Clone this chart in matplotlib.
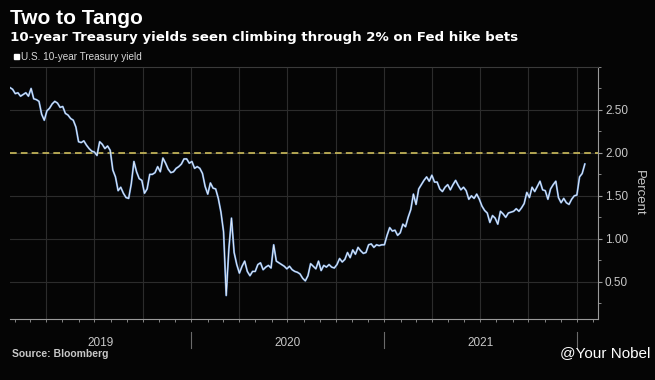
import pandas as pd
import matplotlib
matplotlib.use("Agg")
import matplotlib.pyplot as plt
import matplotlib.dates as mdates
import matplotlib.transforms as mtransforms
from matplotlib.patches import Rectangle
from matplotlib.ticker import FixedLocator, MultipleLocator, FormatStrFormatter

# U.S. 10-year Treasury yield (%), one reading every 5 days from 2019-01-22
yield_2019 = [2.76, 2.74,
              2.69, 2.70, 2.66, 2.68, 2.70, 2.66,
              2.75, 2.63, 2.62, 2.60, 2.45, 2.38,
              2.49, 2.52, 2.57, 2.60, 2.58, 2.53,
              2.54, 2.46, 2.44, 2.40, 2.38, 2.30,
              2.13, 2.12, 2.14, 2.09, 2.05, 2.02,
              2.01, 1.97, 2.13, 2.10, 2.05, 2.08, 2.03,
              1.80, 1.72, 1.56, 1.60, 1.53, 1.48,
              1.47, 1.64, 1.90, 1.78, 1.70, 1.68,
              1.53, 1.58, 1.75, 1.75, 1.77, 1.84,
              1.78, 1.94, 1.88, 1.81, 1.77, 1.78,
              1.82, 1.84, 1.87, 1.93, 1.93, 1.88]
yield_2020 = [1.90, 1.82, 1.84, 1.82, 1.76, 1.61,
              1.52, 1.65, 1.59, 1.58, 1.47, 1.31,
              1.08, 0.34, 0.88, 1.24, 0.84, 0.70,
              0.60, 0.68, 0.74, 0.62, 0.57, 0.62,
              0.62, 0.70, 0.72, 0.64, 0.67, 0.69, 0.66,
              0.93, 0.74, 0.72, 0.70, 0.68, 0.65,
              0.68, 0.64, 0.62, 0.61, 0.59, 0.54,
              0.51, 0.57, 0.71, 0.68, 0.65, 0.74,
              0.63, 0.69, 0.67, 0.70, 0.67, 0.66,
              0.70, 0.77, 0.73, 0.76, 0.84, 0.78,
              0.87, 0.82, 0.90, 0.86, 0.83, 0.84,
              0.93, 0.94, 0.90, 0.93, 0.92, 0.93]
yield_2021 = [0.93, 1.04, 1.13, 1.09, 1.10, 1.04, 1.07,
              1.17, 1.14, 1.25, 1.34, 1.52,
              1.40, 1.58, 1.63, 1.68, 1.72, 1.67,
              1.74, 1.66, 1.66, 1.58, 1.55, 1.60,
              1.63, 1.57, 1.63, 1.68, 1.62, 1.57, 1.60,
              1.56, 1.46, 1.50, 1.47, 1.52, 1.46,
              1.38, 1.33, 1.30, 1.19, 1.27, 1.24,
              1.17, 1.32, 1.29, 1.25, 1.30, 1.31,
              1.32, 1.35, 1.32, 1.36, 1.41, 1.54,
              1.48, 1.60, 1.55, 1.61, 1.67, 1.57,
              1.56, 1.46, 1.58, 1.63, 1.67, 1.48,
              1.42, 1.47, 1.42, 1.40, 1.46, 1.50]
yield_2022 = [1.51, 1.72, 1.76, 1.87]

hike_line = 2.0
year_labels = ["2019", "2020", "2021"]

yields = yield_2019 + yield_2020 + yield_2021 + yield_2022
dates = pd.date_range("2019-01-22", periods=len(yields), freq="5D")

bg = "#050505"
grid_c = "#2c2c2c"
axis_c = "#9a9a9a"
text_c = "#c8c8c8"

plt.rcParams["font.family"] = ["Liberation Sans", "DejaVu Sans"]

fig = plt.figure(figsize=(6.55, 3.80), dpi=100, facecolor=bg)
ax = fig.add_axes([10 / 655, 61 / 380, 588 / 655, 252 / 380], facecolor=bg)

# quarterly vertical grid
for d in pd.date_range("2019-04-01", "2022-01-01", freq="QS"):
    ax.axvline(d, color=grid_c, lw=0.8, zorder=0)

ax.plot(dates, yields, color="#5f8fcf", lw=1.4, solid_joinstyle="round", zorder=3)
ax.plot(dates, yields, color="#f2f5fa", lw=0.7, alpha=0.9, zorder=4)
ax.axhline(hike_line, color="#cdbd5c", lw=1.2, ls=(0, (4, 2.5)), zorder=2)

ax.set_xlim(dates[0], pd.Timestamp("2022-02-10"))
ax.set_ylim(0.066, 3.0)

# y axis on the right
ax.yaxis.tick_right()
ax.yaxis.set_label_position("right")
ax.yaxis.set_major_locator(FixedLocator([0.5, 1.0, 1.5, 2.0, 2.5]))
ax.yaxis.set_major_formatter(FormatStrFormatter("%.2f"))
ax.yaxis.set_minor_locator(MultipleLocator(0.25))
ax.grid(axis="y", which="major", color=grid_c, lw=0.8, zorder=0)
ax.tick_params(axis="y", which="major", length=3, color=axis_c,
               labelcolor=text_c, labelsize=8.5, pad=2)
ax.tick_params(axis="y", which="minor", length=2, color=axis_c)
ax.set_ylabel("Percent", rotation=270, labelpad=12, fontsize=9.5, color=text_c)

# x axis: year labels centred in the visible part of each year
lo, hi = ax.get_xlim()
label_pos = []
for y in year_labels:
    a = max(mdates.date2num(pd.Timestamp(f"{y}-01-01")), lo)
    b = mdates.date2num(pd.Timestamp(f"{int(y) + 1}-01-01"))
    label_pos.append((a + b) / 2)
ax.set_xticks(label_pos)
ax.set_xticklabels(year_labels)
ax.xaxis.set_minor_locator(mdates.MonthLocator())
ax.tick_params(axis="x", which="major", length=0, labelcolor=text_c,
               labelsize=8.5, pad=13)
ax.tick_params(axis="x", which="minor", length=2, color=axis_c)

# year separators below the axis
trans = mtransforms.blended_transform_factory(ax.transData, ax.transAxes)
for y in year_labels[1:] + ["2022"]:
    d = pd.Timestamp(f"{y}-01-01")
    ax.plot([d, d], [-0.052, -0.115], color="#6a6a6a", lw=0.8,
            transform=trans, clip_on=False)

ax.spines["left"].set_visible(False)
ax.spines["top"].set_color("#3a3a3a")
ax.spines["bottom"].set_color(axis_c)
ax.spines["right"].set_color(axis_c)

# titles and notes
fig.text(10 / 655, 1 - 24 / 380, "Two to Tango", fontsize=15,
         fontweight="bold", color="white", va="baseline")
fig.text(10 / 655, 1 - 41 / 380,
         "10-year Treasury yields seen climbing through 2% on Fed hike bets",
         fontsize=9.6, fontweight="bold", color="white", va="baseline",
         family="DejaVu Sans")
fig.patches.append(Rectangle((14 / 655, 1 - 59 / 380), 5 / 655, 5 / 380,
                             transform=fig.transFigure, color="white"))
fig.text(21 / 655, 1 - 59.5 / 380, "U.S. 10-year Treasury yield", fontsize=7.2,
         color="#d8d8d8", va="baseline")
fig.text(12 / 655, 1 - 357 / 380, "Source: Bloomberg", fontsize=7.5,
         fontweight="bold", color=text_c, va="baseline")
fig.text(650 / 655, 1 - 357 / 380, "@Your Nobel", fontsize=11,
         color="white", ha="right", va="baseline")

fig.savefig("out.png", dpi=100, facecolor=bg)
